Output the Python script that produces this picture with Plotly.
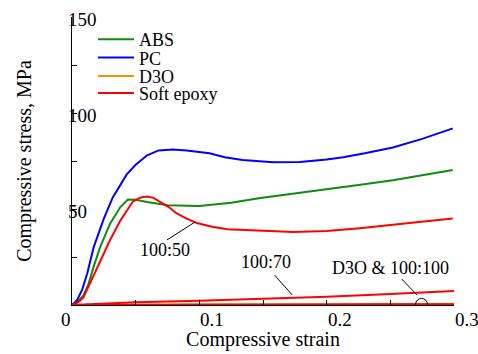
import plotly.graph_objects as go

# ---- data ----
pc_x = [0, 0.004, 0.008, 0.012, 0.017, 0.025, 0.032, 0.043, 0.05, 0.059, 0.068, 0.079, 0.09,
        0.108, 0.12, 0.134, 0.158, 0.179, 0.2, 0.213, 0.23, 0.252, 0.275, 0.299]
pc_y = [0, 2.5, 8, 16.5, 30, 45, 56, 68, 73, 78, 80.5, 81, 80.5,
        79, 77, 75.5, 74.4, 74.5, 75.8, 77, 79, 82, 86.5, 92]

abs_x = [0, 0.004, 0.009, 0.013, 0.017, 0.022, 0.03, 0.038, 0.044, 0.05, 0.059, 0.075, 0.1,
         0.125, 0.148, 0.175, 0.2, 0.225, 0.252, 0.275, 0.299]
abs_y = [0, 1.5, 5, 11, 20, 30, 42.5, 51, 55, 54.8, 53.6, 52, 51.6,
         53.2, 55.7, 58, 60.3, 62.5, 65, 67.5, 70.3]

ep50_x = [0, 0.005, 0.009, 0.014, 0.022, 0.03, 0.038, 0.048, 0.054, 0.059, 0.064, 0.069, 0.076,
          0.082, 0.09, 0.098, 0.11, 0.122, 0.15, 0.174, 0.2, 0.226, 0.265, 0.299]
ep50_y = [0, 1.5, 4, 11, 22, 34, 44, 54, 56, 56.5, 55.8, 53.8, 51,
          47.8, 45, 42.7, 40.8, 39.5, 38.5, 38, 38.5, 40, 42.7, 45]

ep70_x = [0, 0.02, 0.05, 0.1, 0.15, 0.2, 0.25, 0.3]
ep70_y = [0, 0.7, 1.4, 2.2, 3.1, 4.3, 5.7, 7.3]

ep100_x = [0, 0.05, 0.1, 0.15, 0.2, 0.25, 0.3]
ep100_y = [0, 0.15, 0.2, 0.25, 0.3, 0.35, 0.4]

d3o_x = [0, 0.05, 0.1, 0.15, 0.2, 0.25, 0.3]
d3o_y = [0, 0.3, 0.35, 0.4, 0.45, 0.5, 0.55]

x_ticks = [0, 0.1, 0.2, 0.3]
x_tick_labels = ["0", "0.1", "0.2", "0.3"]
y_ticks = [50, 100, 150]
y_tick_labels = ["50", "100", "150"]

legend_names = ["ABS", "PC", "D3O", "Soft epoxy"]

# annotation labels: text, text position, leader start, leader end
ann_text = ["100:50", "100:70", "D3O &amp; 100:100"]
ann_xy = [(0.073, 28.6), (0.152, 22.4), (0.25, 19.3)]
lead_from = [(0.0746, 33.9), (0.159, 15.6), (0.259, 13.5)]
lead_to = [(0.0966, 43.2), (0.173, 5.2), (0.271, 5.2)]
circle_center = (0.2745, 0.3)

FONT = "Liberation Serif"
GREEN = "#108a10"
BLUE = "#0000ff"
ORANGE = "#ff8c00"
RED = "#ff0000"

fig = go.Figure()
fig.add_trace(go.Scatter(x=d3o_x, y=d3o_y, mode="lines", name=legend_names[2],
                         line=dict(color=ORANGE, width=2), legend="legend3"))
fig.add_trace(go.Scatter(x=abs_x, y=abs_y, mode="lines", name=legend_names[0],
                         line=dict(color=GREEN, width=2), legend="legend"))
fig.add_trace(go.Scatter(x=pc_x, y=pc_y, mode="lines", name=legend_names[1],
                         line=dict(color=BLUE, width=2), legend="legend2"))
fig.add_trace(go.Scatter(x=ep50_x, y=ep50_y, mode="lines", name=legend_names[3],
                         legendgroup="ep", line=dict(color=RED, width=2), legend="legend4"))
fig.add_trace(go.Scatter(x=ep70_x, y=ep70_y, mode="lines", name="Soft epoxy 100:70",
                         legendgroup="ep", showlegend=False, line=dict(color=RED, width=2),
                         legend="legend4"))
fig.add_trace(go.Scatter(x=ep100_x, y=ep100_y, mode="lines", name="Soft epoxy 100:100",
                         legendgroup="ep", showlegend=False, line=dict(color=RED, width=2),
                         legend="legend4"))

for t, (ax_, ay_), (x0, y0), (x1, y1) in zip(ann_text, ann_xy, lead_from, lead_to):
    fig.add_annotation(x=ax_, y=ay_, text=t, showarrow=False,
                       font=dict(family=FONT, size=18, color="black"))
    fig.add_shape(type="line", x0=x0, y0=y0, x1=x1, y1=y1, xref="x", yref="y",
                  line=dict(color="black", width=1))

fig.add_shape(type="circle", xref="x", yref="y", xsizemode="pixel", ysizemode="pixel",
              xanchor=circle_center[0], yanchor=circle_center[1],
              x0=-6, x1=6, y0=-6, y1=6, line=dict(color="black", width=1))

# y tick labels drawn just left of the axis line, overlapping it as in the reference
for v, lab in zip(y_ticks, y_tick_labels):
    fig.add_annotation(x=0, xref="paper", y=v, yref="y", text=lab, showarrow=False,
                       xanchor="left", yanchor="middle", xshift=-6, yshift=-2,
                       font=dict(family=FONT, size=19, color="black"))

# x tick labels: "0" ends at the origin, the others start at their tick
for v, lab in zip(x_ticks, x_tick_labels):
    fig.add_annotation(x=v, xref="x", y=0, yref="paper", text=lab, showarrow=False,
                       xanchor="right" if v == 0 else "left", yanchor="middle",
                       xshift=1 if v == 0 else -1, yshift=-14,
                       font=dict(family=FONT, size=19, color="black"))

leg_common = dict(x=0.055, xanchor="left", yanchor="middle", bgcolor="rgba(0,0,0,0)",
                  borderwidth=0, font=dict(family=FONT, size=18, color="black"),
                  itemwidth=36)
leg_y = [0.922, 0.858, 0.794, 0.735]

fig.update_layout(
    width=478, height=354,
    margin=dict(l=72, r=24, t=17, b=49, pad=0),
    paper_bgcolor="white", plot_bgcolor="white",
    font=dict(family=FONT, size=19, color="black"),
    showlegend=True,
    legend=dict(y=leg_y[0], **leg_common),
    legend2=dict(y=leg_y[1], **leg_common),
    legend3=dict(y=leg_y[2], **leg_common),
    legend4=dict(y=leg_y[3], **leg_common),
)
fig.update_xaxes(range=[0, 0.3], tickmode="array", tickvals=x_ticks,
                 showticklabels=False,
                 showgrid=False, zeroline=False, showline=True, linecolor="black", linewidth=1,
                 ticks="inside", ticklen=5, tickcolor="black",
                 minor=dict(dtick=0.05, ticks="inside", ticklen=5, tickcolor="black"),
                 automargin=False,
                 title=dict(text="Compressive strain", font=dict(size=20), standoff=26))
fig.update_yaxes(range=[0, 150], tickmode="array", tickvals=y_ticks,
                 showticklabels=False,
                 showgrid=False, zeroline=False, showline=True, linecolor="black", linewidth=1,
                 ticks="inside", ticklen=5, tickcolor="black",
                 minor=dict(dtick=25, ticks="inside", ticklen=5, tickcolor="black"),
                 automargin=False,
                 title=dict(text="Compressive stress, MPa", font=dict(size=20), standoff=34))

fig.write_html("out.html", config={"displayModeBar": False},
               post_script="document.body.style.margin='0';document.body.style.overflow='hidden';")
